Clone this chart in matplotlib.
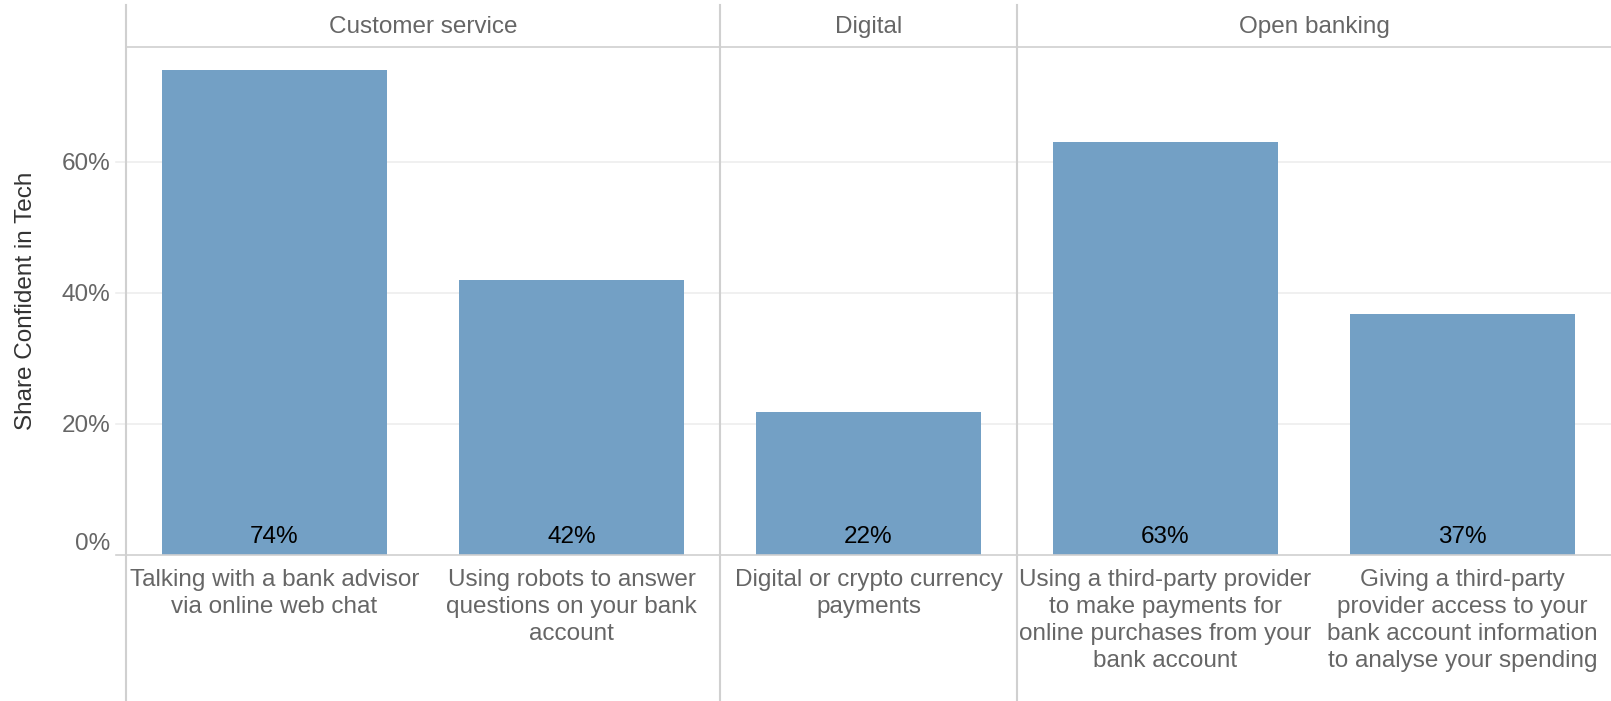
import matplotlib
matplotlib.use("Agg")
import matplotlib.pyplot as plt

# data
groups = ["Customer service", "Customer service", "Digital", "Open banking", "Open banking"]
categories = [
    "Talking with a bank advisor\nvia online web chat",
    "Using robots to answer\nquestions on your bank\naccount",
    "Digital or crypto currency\npayments",
    "Using a third-party provider\nto make payments for\nonline purchases from your\nbank account",
    "Giving a third-party\nprovider access to your\nbank account information\nto analyse your spending",
]
shares = [74.1, 42.0, 21.8, 63.1, 36.8]
header_names = ["Customer service", "Digital", "Open banking"]
yticks = [0, 20, 40, 60]

plt.rcParams['font.family'] = ['Liberation Sans', 'DejaVu Sans']

W, H = 1611, 701
fig = plt.figure(figsize=(W / 100, H / 100), dpi=100)
ax_left, ax_top, ax_bottom = 126, 46.7, 555
ax = fig.add_axes([ax_left / W, (H - ax_bottom) / H, 1 - ax_left / W, (ax_bottom - ax_top) / H])
ax_h = ax_bottom - ax_top

bar_col = "#73a0c5"
line_col = "#d0d0d0"
fs = 17.5
x = list(range(len(categories)))

ax.bar(x, shares, width=0.757, color=bar_col, zorder=3)
for xi, v in zip(x, shares):
    ax.text(xi, 1.9, f"{v:.0f}%", ha="center", va="baseline", fontsize=fs, color="black", zorder=4)

ax.set_xlim(-0.5, len(categories) - 0.5)
ax.set_ylim(0, 77.6)

for s in ["left", "right", "bottom"]:
    ax.spines[s].set_visible(False)
ax.spines["top"].set_color(line_col)
ax.spines["top"].set_linewidth(1.2)

# gridlines and zero line, a bit past the left edge
ext = -10 / (W - ax_left)
for t in yticks[1:]:
    ax.axhline(t, xmin=ext, xmax=1, color="#eeeeee", lw=1.2, clip_on=False, zorder=1)
ax.axhline(0, xmin=ext, xmax=1, color=line_col, lw=1.2, clip_on=False, zorder=5)

# pane dividers
ymin = -(H - ax_bottom) / ax_h
ymax = 1 + (ax_top - 5) / ax_h
for xd in [-0.5, 1.5, 2.5]:
    ax.axvline(xd, ymin=ymin, ymax=ymax, color=line_col, lw=1.5, clip_on=False, zorder=5)

ax.set_yticks(yticks)
ax.set_yticklabels([f"{t}%" for t in yticks])
ax.tick_params(axis="y", length=0, pad=11, labelsize=fs, labelcolor="#666666")
ax.get_yticklabels()[0].set_va("bottom")

ax.set_xticks(x)
ax.set_xticklabels(categories, linespacing=1.3)
ax.tick_params(axis="x", length=0, pad=10, labelsize=fs, labelcolor="#666666")

ax.set_ylabel("Share Confident in Tech", fontsize=fs, color="#333333", labelpad=18)

# group headers
starts = {}
for i, g in enumerate(groups):
    starts.setdefault(g, []).append(i)
for name in header_names:
    idx = starts[name]
    xc = (idx[0] + idx[-1]) / 2
    ax.text(xc, 1 + 13.3 / ax_h, name, transform=ax.get_xaxis_transform(),
            ha="center", va="baseline", fontsize=fs, color="#666666")

fig.savefig("out.png", dpi=100)
